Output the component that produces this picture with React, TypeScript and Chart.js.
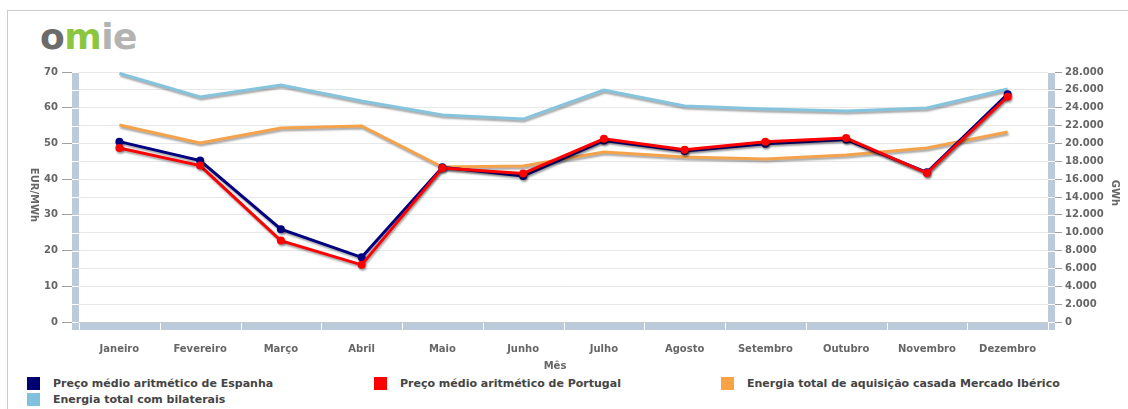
import React, { useEffect, useRef } from 'react';
import { Chart, registerables } from 'chart.js';

Chart.register(...registerables);

const months = ['Janeiro', 'Fevereiro', 'Março', 'Abril', 'Maio', 'Junho', 'Julho', 'Agosto', 'Setembro', 'Outubro', 'Novembro', 'Dezembro'];
const precoEspanha = [50.5, 45.2, 26.0, 18.1, 43.3, 40.9, 50.8, 47.9, 49.9, 51.1, 41.9, 63.8];
const precoPortugal = [48.7, 43.8, 22.8, 16.0, 43.1, 41.6, 51.3, 48.2, 50.5, 51.5, 41.7, 63.1];
const energiaCasada = [22060, 20050, 21730, 21950, 17360, 17470, 19040, 18480, 18260, 18700, 19490, 21280];
const energiaBilaterais = [27850, 25200, 26540, 24750, 23180, 22730, 25980, 24190, 23850, 23630, 23970, 26090];

const seriesLabels = [
  'Preço médio aritmético de Espanha',
  'Preço médio aritmético de Portugal',
  'Energia total de aquisição casada Mercado Ibérico',
  'Energia total com bilaterais',
];
const seriesColors = ['#000080', '#ff0000', '#f4a34c', '#86c3dc'];
const legendColors = ['#000073', '#ff0000', '#f9a444', '#80c1de'];

const FONT = '"DejaVu Sans", Verdana, sans-serif';

const fmtThousands = (v: number) => String(v).replace(/\B(?=(\d{3})+(?!\d))/g, '.');

const shadowPlugin = {
  id: 'lineShadow',
  beforeDatasetDraw(chart: any) {
    const ctx = chart.ctx;
    ctx.save();
    ctx.shadowColor = 'rgba(0,0,0,0.35)';
    ctx.shadowOffsetX = 1;
    ctx.shadowOffsetY = 2;
    ctx.shadowBlur = 2;
  },
  afterDatasetDraw(chart: any) {
    chart.ctx.restore();
  },
};

const axisBarPlugin = {
  id: 'axisBars',
  beforeDatasetsDraw(chart: any) {
    const { ctx, chartArea: ca, scales } = chart;
    const w = 7;
    ctx.save();
    ctx.fillStyle = '#bccbdb';
    ctx.fillRect(ca.left - w, ca.top, w, ca.bottom - ca.top + w + 1);
    ctx.fillRect(ca.right, ca.top, w, ca.bottom - ca.top + w + 1);
    ctx.fillRect(ca.left - w, ca.bottom + 1, ca.right - ca.left + 2 * w, w);
    ctx.strokeStyle = '#ffffff';
    ctx.lineWidth = 1;
    ctx.beginPath();
    scales.y.ticks.forEach((t: any) => {
      const y = Math.round(scales.y.getPixelForValue(t.value)) + 0.5;
      if (y < ca.bottom - 1) {
        ctx.moveTo(ca.left - w, y);
        ctx.lineTo(ca.left, y);
        ctx.moveTo(ca.right, y);
        ctx.lineTo(ca.right + w, y);
      }
    });
    for (let i = 0; i <= months.length; i++) {
      const x = Math.round(scales.x.getPixelForValue(i - 0.5)) + 0.5;
      ctx.moveTo(x, ca.bottom + 1);
      ctx.lineTo(x, ca.bottom + 1 + w);
    }
    ctx.moveTo(ca.left - w, ca.bottom + 0.5);
    ctx.lineTo(ca.left, ca.bottom + 0.5);
    ctx.moveTo(ca.right, ca.bottom + 0.5);
    ctx.lineTo(ca.right + w, ca.bottom + 0.5);
    ctx.stroke();
    ctx.restore();
  },
  afterDraw(chart: any) {
    const { ctx } = chart;
    ctx.save();
    ctx.fillStyle = '#666666';
    ctx.font = `bold 10px ${FONT}`;
    ctx.textAlign = 'center';
    ctx.textBaseline = 'middle';
    ctx.fillText('Mês', 555, 366);
    ctx.translate(34, 195);
    ctx.rotate(Math.PI / 2);
    ctx.fillText('EUR/MWh', 0, 0);
    ctx.restore();
    ctx.save();
    ctx.fillStyle = '#666666';
    ctx.font = `bold 10px ${FONT}`;
    ctx.textAlign = 'center';
    ctx.textBaseline = 'middle';
    ctx.translate(1115, 193);
    ctx.rotate(Math.PI / 2);
    ctx.fillText('GWh', 0, 0);
    ctx.restore();
  },
};

export default function App() {
  const canvasRef = useRef<HTMLCanvasElement | null>(null);

  useEffect(() => {
    if (!canvasRef.current) return;
    const tickFont = { family: FONT, size: 10, weight: 'bold' as const };
    const chart = new Chart(canvasRef.current, {
      type: 'line',
      data: {
        labels: months,
        datasets: [
          {
            label: seriesLabels[0],
            data: precoEspanha,
            yAxisID: 'y',
            borderColor: seriesColors[0],
            backgroundColor: seriesColors[0],
            borderWidth: 3,
            pointRadius: 4,
            pointBorderWidth: 0,
            pointBackgroundColor: seriesColors[0],
            order: 1,
          },
          {
            label: seriesLabels[1],
            data: precoPortugal,
            yAxisID: 'y',
            borderColor: seriesColors[1],
            backgroundColor: seriesColors[1],
            borderWidth: 3,
            pointRadius: 4,
            pointBorderWidth: 0,
            pointBackgroundColor: seriesColors[1],
            order: 0,
          },
          {
            label: seriesLabels[2],
            data: energiaCasada,
            yAxisID: 'y1',
            borderColor: seriesColors[2],
            backgroundColor: seriesColors[2],
            borderWidth: 3,
            pointRadius: 0,
            order: 2,
          },
          {
            label: seriesLabels[3],
            data: energiaBilaterais,
            yAxisID: 'y1',
            borderColor: seriesColors[3],
            backgroundColor: seriesColors[3],
            borderWidth: 3,
            pointRadius: 0,
            order: 3,
          },
        ],
      },
      options: {
        responsive: false,
        animation: false,
        layout: { padding: { top: 72, left: 0, right: 0, bottom: 0 } },
        plugins: { legend: { display: false }, tooltip: { enabled: false } },
        scales: {
          x: {
            offset: true,
            grid: { display: false, drawTicks: false },
            border: { display: false },
            ticks: { font: tickFont, color: '#666666', padding: 21, maxRotation: 0, autoSkip: false },
            afterFit: (s: any) => { s.height = 50; },
          },
          y: {
            position: 'left',
            min: 0,
            max: 70,
            border: { display: false },
            grid: {
              color: (c: any) => (c.tick && c.tick.value === 0 ? '#c8c8c8' : '#e8e8e8'),
              tickColor: (c: any) => (c.tick && c.tick.value % 10 === 0 ? '#a0a0a0' : 'rgba(0,0,0,0)'),
              tickLength: 17,
            },
            ticks: {
              stepSize: 5,
              font: tickFont,
              color: '#666666',
              padding: 4,
              autoSkip: false,
              callback: (v: any) => (Number(v) % 10 === 0 ? String(v) : ''),
            },
            afterFit: (s: any) => { s.width = 79; },
          },
          y1: {
            position: 'right',
            min: 0,
            max: 28000,
            border: { display: false },
            grid: { drawOnChartArea: false, tickColor: '#a0a0a0', tickLength: 14 },
            ticks: {
              stepSize: 2000,
              font: tickFont,
              color: '#666666',
              padding: 3,
              autoSkip: false,
              callback: (v: any) => fmtThousands(Number(v)),
            },
            afterFit: (s: any) => { s.width = 80; },
          },
        },
      },
      plugins: [axisBarPlugin, shadowPlugin],
    });
    return () => chart.destroy();
  }, []);

  const legendPos = [
    { left: 27, top: 377 },
    { left: 374, top: 377 },
    { left: 721, top: 377 },
    { left: 27, top: 393 },
  ];

  return (
    <div style={{ position: 'fixed', left: 0, top: 0, width: 1128, height: 409, background: '#fff', overflow: 'hidden' }}>
      <div style={{ position: 'absolute', left: 7, top: 10, width: 1300, height: 600, border: '1px solid #cccccc' }} />
      <div style={{ position: 'absolute', left: 40, top: 17, fontFamily: FONT, fontWeight: 'bold', fontSize: 36, lineHeight: '40px', letterSpacing: -0.5, whiteSpace: 'nowrap' }}>
        <span style={{ color: '#6b6b6b' }}>o</span>
        <span style={{ color: '#8cc63f' }}>m</span>
        <span style={{ color: '#b3b3b3' }}>ie</span>
      </div>
      <canvas ref={canvasRef} width={1128} height={372} style={{ position: 'absolute', left: 0, top: 0, width: 1128, height: 372 }} />
      {seriesLabels.map((lab, i) => (
        <div key={lab} style={{ position: 'absolute', left: legendPos[i].left, top: legendPos[i].top, display: 'flex', alignItems: 'center', height: 13, whiteSpace: 'nowrap' }}>
          <span style={{ display: 'inline-block', width: 13, height: 13, background: legendColors[i], marginRight: 13 }} />
          <span style={{ fontFamily: FONT, fontWeight: 'bold', fontSize: 11, color: '#444444' }}>{lab}</span>
        </div>
      ))}
    </div>
  );
}
